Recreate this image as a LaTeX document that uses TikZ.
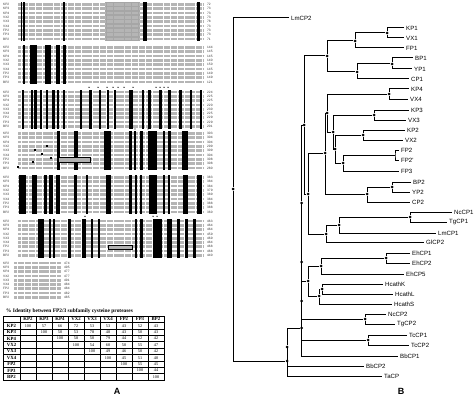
\documentclass[tikz,border=0pt]{standalone}
\usepackage{fontspec}
\setmainfont{Liberation Serif}
\newfontfamily\treefont{Liberation Sans}

\begin{document}
\begin{tikzpicture}[
  x=1pt, y=-1pt,
  line join=miter,
  seqrow/.style={draw=gray!58, line width=2.7pt, dash pattern=on 3.1pt off 0.45pt},
  rowlbl/.style={anchor=west, inner sep=0pt, font=\treefont\fontsize{3.2}{3.4}\selectfont, text=black!80},
  idmark/.style={circle, fill=black, inner sep=0pt, minimum size=1.4pt},
  resbox/.style={rectangle, fill=black, inner sep=0pt, minimum size=2pt},
  cell/.style={inner sep=0pt, font=\fontsize{4.2}{4.4}\selectfont},
  cellhd/.style={inner sep=0pt, font=\bfseries\fontsize{4.8}{5}\selectfont},
  branch/.style={line width=1pt},
  fork/.style={circle, fill=black, inner sep=0pt, minimum size=3pt},
  taxon/.style={anchor=west, inner sep=2pt, font=\treefont\fontsize{6.1}{6.5}\selectfont},
  panel/.style={font=\treefont\bfseries\fontsize{9}{10}\selectfont}
]
\useasboundingbox (0,0) rectangle (474,396);

% =========================================================================
% A: alignment
% =========================================================================

% shaded stretch in block 1
\fill[gray!70] (105,2.3) rectangle (140,41.1);

% rows, labels and end numbers (blocks 1-6)
\foreach \blk/\ytop/\nums in {
    1/4.5/{72,73,73,73,78,73,73,73,71},
    2/47.5/{144,145,145,140,150,145,149,149,121},
    3/92/{224,225,225,220,230,225,229,229,201},
    4/133.5/{303,304,304,299,309,304,308,308,280},
    5/177.5/{383,384,384,379,389,384,388,388,360},
    6/221/{463,464,464,459,469,464,468,468,440}}{
  \foreach \nm [count=\i from 0] in {KP2,KP3,KP4,VX2,VX3,VX4,FP2,FP3,BP2}{
    \draw[seqrow] (18,\ytop+4.3*\i) -- (204,\ytop+4.3*\i);
    \node[rowlbl] (al\blk-\nm) at (3,\ytop+4.3*\i) {\nm};
  }
  \foreach \val [count=\i from 0] in \nums
    \node[rowlbl] (end\blk-\i) at (207,\ytop+4.3*\i) {\val};
}

% block 7 (C-terminal ends)
\foreach \nm/\val [count=\i from 0] in {KP2/474,KP3/495,KP4/477,VX2/477,VX3/491,VX4/484,FP2/484,FP3/482,BP2/485}{
  \draw[seqrow] (14,263+4.3*\i) -- (61,263+4.3*\i);
  \node[rowlbl] (al7-\nm) at (3,263+4.3*\i) {\nm};
  \node[rowlbl] (end7-\i) at (64,263+4.3*\i) {\val};
}

% conserved columns
\foreach \a/\z in {20.7/22, 23.3/25, 63.3/65.3, 143.3/147.3, 196.7/200}
  \fill (\a,2.3) rectangle (\z,41.1);
\foreach \a/\z in {22.7/25, 30/36.7, 45/50.7, 56/60, 63.3/65.7}
  \fill (\a,45.3) rectangle (\z,84.1);
\foreach \a/\z in {21.7/24, 30.7/32.7, 34.3/36.7, 40/42.3, 46/48.3, 51.7/55, 57.3/59.3,
    62.7/65, 80/81.7, 89.3/91.7, 98.7/100.7, 107.3/109.3, 114/116, 129.3/133.3,
    141.7/144, 148.3/150.7, 159.3/161.7, 168.3/170.7, 179.3/181.7, 190/192.3, 200/202.3}
  \fill (\a,89.8) rectangle (\z,128.6);
\foreach \a/\z in {57/60, 74/78, 104/111, 129/132, 134/136, 140/143, 148/157,
    163/165, 168/171, 182/188}
  \fill (\a,131.3) rectangle (\z,170.1);
\foreach \a/\z in {19.3/26, 31.7/37.3, 44.3/47.3, 49.3/52.7, 56/60, 74/77.3, 86/88.3,
    106/110.7, 129.3/131.7, 135/136.7, 140/142.3, 149.3/156.7, 162.7/165,
    168.3/170, 183.3/188.3, 196.7/201.7}
  \fill (\a,175.3) rectangle (\z,214.1);
\foreach \a/\z in {38.3/44, 49.3/51, 53.3/55, 68.3/70.7, 81.7/86, 90.7/92.7, 98.3/100,
    135/136.7, 140/143.3, 153.3/161.7, 166.7/171.7, 176.7/180, 185/188.3, 193.3/196}
  \fill (\a,218.8) rectangle (\z,257.6);

% marks over the blocks
\foreach \x in {89,98,107,113,118,124,133,156,160,164,168}
  \node[idmark] (mk3-\x) at (\x,87.3) {};
\foreach \x in {135,148}
  \node[idmark] (mk4-\x) at (\x,129) {};
\foreach \x in {85,153,157}
  \node[idmark] (mk6-\x) at (\x,216.3) {};

% boxed residues in block 4
\foreach \x/\y in {47/145.7, 35/150, 41.7/154.3, 51/157.7, 32.7/162.3, 18.3/166.7}
  \node[resbox] (rb-\x) at (\x,\y) {};
\draw[fill=gray!60, line width=0.5pt] (58,157) rectangle (90,162);
\draw[fill=gray!60, line width=0.5pt] (108,245) rectangle (132,249);

% identity table
\node[anchor=west, inner sep=0pt, font=\bfseries\fontsize{5.4}{6}\selectfont]
  (tbltitle) at (6,311.5) {\% Identity between FP2/3 subfamily cysteine proteases};
\draw[line width=0.6pt] (3,316) rectangle (164,380);
\foreach \r in {1,...,9}
  \draw[line width=0.45pt] (3,316+6.4*\r) -- (164,316+6.4*\r);
\foreach \x in {20,36,52,68,84,100,116,132,148}
  \draw[line width=0.45pt] (\x,316) -- (\x,380);
\foreach \h [count=\c from 0] in {KP2,KP3,KP4,VX2,VX3,VX4,FP2,FP3,BP2}
  \node[cellhd] (hd-\h) at (28+16*\c,319.3) {\h};
\foreach \h/\s/\vals [count=\r] in {
    KP2/0/{100,57,66,72,53,53,43,52,43},
    KP3/1/{100,50,53,78,48,43,50,43},
    KP4/2/{100,58,50,79,44,52,42},
    VX2/3/{100,54,60,50,55,47},
    VX3/4/{100,49,46,50,42},
    VX4/5/{100,45,51,40},
    FP2/6/{100,55,45},
    FP3/7/{100,44},
    BP2/8/{100}}{
  \node[cellhd] (rw-\h) at (11.5,319.3+6.4*\r) {\h};
  \foreach \val [count=\c from \s] in \vals
    \node[cell] (id-\h-\c) at (28+16*\c,319.3+6.4*\r) {\val};
}

\node[panel] (lblA) at (117,391) {A};

% =========================================================================
% B: tree
% =========================================================================

% taxa
\node[taxon] (LmCP2) at (289,18)  {LmCP2};
\node[taxon] (KP1)   at (404,28)  {KP1};
\node[taxon] (VX1)   at (404,38)  {VX1};
\node[taxon] (FP1)   at (404,48)  {FP1};
\node[taxon] (BP1)   at (413,58)  {BP1};
\node[taxon] (YP1)   at (412,69)  {YP1};
\node[taxon] (CP1)   at (409,79)  {CP1};
\node[taxon] (KP4)   at (409,89)  {KP4};
\node[taxon] (VX4)   at (408,99)  {VX4};
\node[taxon] (KP3)   at (409,110) {KP3};
\node[taxon] (VX3)   at (406,120) {VX3};
\node[taxon] (KP2)   at (405,130) {KP2};
\node[taxon] (VX2)   at (403,140) {VX2};
\node[taxon] (FP2)   at (399,150) {FP2};
\node[taxon] (FP2x)  at (399,160) {FP2'};
\node[taxon] (FP3)   at (399,171) {FP3};
\node[taxon] (BP2)   at (411,182) {BP2};
\node[taxon] (YP2)   at (410,192) {YP2};
\node[taxon] (CP2)   at (410,202) {CP2};
\node[taxon] (NcCP1) at (452,212) {NcCP1};
\node[taxon] (TgCP1) at (447,222) {TgCP1};
\node[taxon] (LmCP1) at (436,233) {LmCP1};
\node[taxon] (GlCP2) at (424,242) {GlCP2};
\node[taxon] (EhCP1) at (410,253) {EhCP1};
\node[taxon] (EhCP2) at (410,263) {EhCP2};
\node[taxon] (EhCP5) at (404,274) {EhCP5};
\node[taxon] (HcathK) at (383,284) {HcathK};
\node[taxon] (HcathL) at (393,294) {HcathL};
\node[taxon] (HcathS) at (392,304) {HcathS};
\node[taxon] (NcCP2) at (386,314) {NcCP2};
\node[taxon] (TgCP2) at (395,324) {TgCP2};
\node[taxon] (TcCP1) at (407,335) {TcCP1};
\node[taxon] (TcCP2) at (409,345) {TcCP2};
\node[taxon] (BbCP1) at (398,356) {BbCP1};
\node[taxon] (BbCP2) at (364,366) {BbCP2};
\node[taxon] (TaCP)  at (382,376) {TaCP};

% forks
\node[fork] (kv1)  at (387,33)  {};
\node[fork] (kvf1) at (355,41)  {};
\node[fork] (by1)  at (392,64)  {};
\node[fork] (byc1) at (357,72)  {};
\node[fork] (p1)   at (327,56)  {};
\node[fork] (kv4)  at (389,94)  {};
\node[fork] (kv3)  at (374,115) {};
\node[fork] (kv2)  at (363,135) {};
\coordinate (fpb)  at (395,155);
\node[fork] (fp)   at (343,163) {};
\node[fork] (kvf2) at (335,149) {};
\node[fork] (g3)   at (333,132) {};
\node[fork] (g4)   at (327,113) {};
\node[fork] (by2)  at (392,187) {};
\node[fork] (byc2) at (367,194) {};
\node[fork] (p2)   at (325,153) {};
\node[fork] (nt1)  at (410,217) {};
\node[fork] (ntl)  at (339,225) {};
\node[fork] (ntg)  at (326,234) {};
\node[fork] (p2g)  at (308,194) {};
\node[fork] (eh12) at (386,258) {};
\node[fork] (eh)   at (321,266) {};
\node[fork] (hkl)  at (322,289) {};
\node[fork] (hc)   at (319,296) {};
\node[fork] (ehc)  at (308,281) {};
\node[fork] (nt2)  at (365,319) {};
\node[fork] (tc)   at (368,340) {};
\node[fork] (s1)   at (304,125) {};
\node[fork] (s2)   at (301.5,203) {};
\node[fork] (s3)   at (301.5,262) {};
\node[fork] (s4)   at (301.5,301) {};
\node[fork] (s5)   at (301.5,328) {};
\node[fork] (r1)   at (287,347) {};
\node[fork] (r2)   at (287,361) {};
\node[fork] (root) at (233,189) {};

% branches
\draw[branch] (KP1.west) -| (kv1) |- (VX1.west);
\draw[branch] (kv1) -| (kvf1) |- (FP1.west);
\draw[branch] (BP1.west) -| (by1) |- (YP1.west);
\draw[branch] (by1) -| (byc1) |- (CP1.west);
\draw[branch] (kvf1) -| (p1) |- (byc1);
\draw[branch] (KP4.west) -| (kv4) |- (VX4.west);
\draw[branch] (KP3.west) -| (kv3) |- (VX3.west);
\draw[branch] (KP2.west) -| (kv2) |- (VX2.west);
\draw[branch] (FP2.west) -| (fpb) |- (FP2x.west);
\draw[branch] (fpb) -| (fp) |- (FP3.west);
\draw[branch] (kv2) -| (kvf2) |- (fp);
\draw[branch] (kv3) -| (g3) |- (kvf2);
\draw[branch] (kv4) -| (g4) |- (g3);
\draw[branch] (BP2.west) -| (by2) |- (YP2.west);
\draw[branch] (by2) -| (byc2) |- (CP2.west);
\draw[branch] (g4) -| (p2) |- (byc2);
\draw[branch] (NcCP1.west) -| (nt1) |- (TgCP1.west);
\draw[branch] (nt1) -| (ntl) |- (LmCP1.west);
\draw[branch] (ntl) -| (ntg) |- (GlCP2.west);
\draw[branch] (p2) -| (p2g) |- (ntg);
\draw[branch] (EhCP1.west) -| (eh12) |- (EhCP2.west);
\draw[branch] (eh12) -| (eh) |- (EhCP5.west);
\draw[branch] (HcathK.west) -| (hkl) |- (HcathL.west);
\draw[branch] (hkl) -| (hc) |- (HcathS.west);
\draw[branch] (eh) -| (ehc) |- (hc);
\draw[branch] (NcCP2.west) -| (nt2) |- (TgCP2.west);
\draw[branch] (TcCP1.west) -| (tc) |- (TcCP2.west);
\draw[branch] (p1) -| (s1) |- (p2g);
\draw[branch] (s1) -| (s2) |- (ehc);
\draw[branch] (s2) -| (s3) |- (nt2);
\draw[branch] (s3) -| (s4) |- (tc);
\draw[branch] (s4) -| (s5) |- (BbCP1.west);
\draw[branch] (s5) -| (r1) |- (BbCP2.west);
\draw[branch] (r1) -| (r2) |- (TaCP.west);
\draw[branch] (LmCP2.west) -| (root) |- (r2);

\node[panel] (lblB) at (401,391) {B};

\end{tikzpicture}
\end{document}
